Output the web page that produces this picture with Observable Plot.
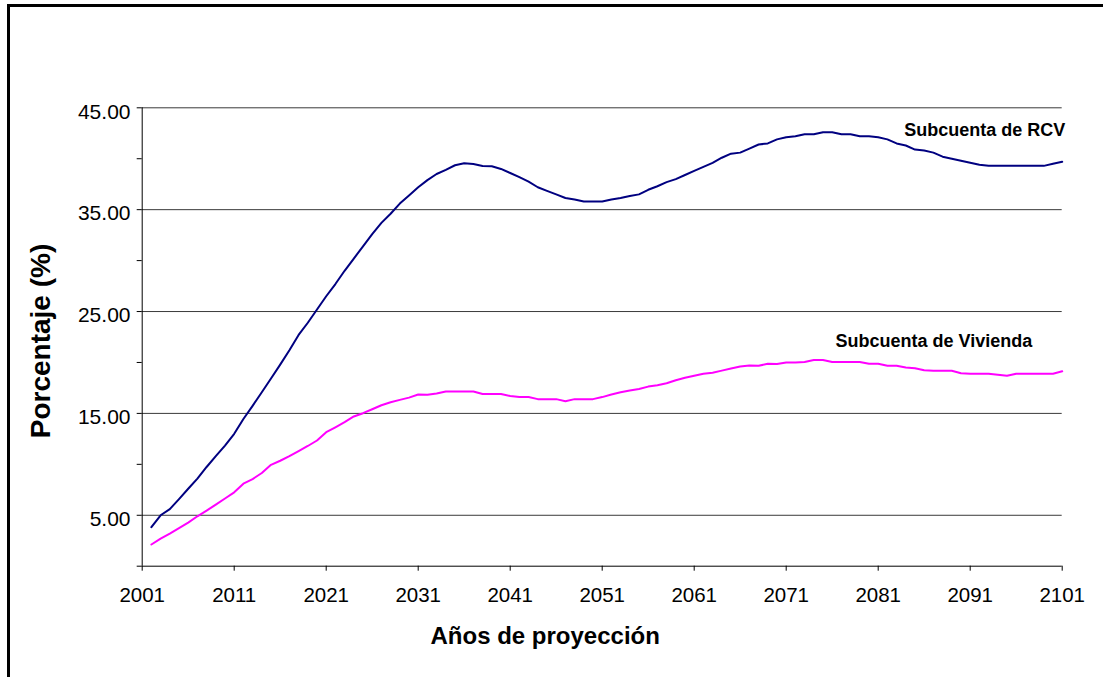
<!DOCTYPE html>
<html>
<head>
<meta charset="utf-8">
<script src="https://cdn.jsdelivr.net/npm/d3@7"></script>
<script src="https://cdn.jsdelivr.net/npm/@observablehq/plot@0.6"></script>
<style>
  html, body { margin: 0; padding: 0; background: #fff; overflow: hidden; }
  #wrap { position: relative; width: 1103px; height: 677px; overflow: hidden; }
  #frame { position: absolute; left: 7px; top: 4px; width: 1200px; height: 800px; border: 3px solid #000; box-sizing: border-box; }
  #chart { position: absolute; left: 0; top: 0; }
</style>
</head>
<body>
<div id="wrap"><div id="frame"></div><div id="chart"></div></div>
<script>
const seriesNames = ["Subcuenta de RCV", "Subcuenta de Vivienda"];
const startYear = 2002;
const rcv = [
  3.83, 5.0, 5.6, 6.58, 7.6, 8.6, 9.74, 10.8, 11.84, 13.0,
  14.45, 15.74, 17.08, 18.42, 19.79, 21.2, 22.7, 23.9, 25.2, 26.5,
  27.7, 29.0, 30.2, 31.4, 32.6, 33.7, 34.6, 35.6, 36.4, 37.2,
  37.9, 38.5, 38.9, 39.36, 39.55, 39.49, 39.29, 39.26, 39.0, 38.6,
  38.2, 37.75, 37.2, 36.84, 36.5, 36.15, 36.0, 35.8, 35.8, 35.8,
  36.0, 36.15, 36.35, 36.5, 36.95, 37.3, 37.7, 38.0, 38.4, 38.8,
  39.2, 39.6, 40.1, 40.5, 40.6, 41.0, 41.4, 41.5, 41.9, 42.1,
  42.2, 42.4, 42.4, 42.6, 42.6, 42.4, 42.4, 42.2, 42.2, 42.1,
  41.9, 41.5, 41.3, 40.9, 40.8, 40.6, 40.2, 40.0, 39.8, 39.6,
  39.4, 39.3, 39.3, 39.3, 39.3, 39.3, 39.3, 39.3, 39.5, 39.7
];
const vivienda = [
  2.13, 2.7, 3.2, 3.73, 4.28, 4.9, 5.45, 6.05, 6.65, 7.25,
  8.1, 8.55, 9.15, 9.95, 10.35, 10.8, 11.3, 11.8, 12.34, 13.15,
  13.64, 14.14, 14.7, 15.02, 15.41, 15.8, 16.1, 16.33, 16.55, 16.85,
  16.82, 16.95, 17.15, 17.15, 17.15, 17.15, 16.9, 16.9, 16.9, 16.7,
  16.6, 16.6, 16.4, 16.4, 16.4, 16.2, 16.4, 16.4, 16.4, 16.6,
  16.85, 17.08, 17.25, 17.4, 17.63, 17.77, 17.96, 18.26, 18.5, 18.7,
  18.9, 19.0, 19.2, 19.4, 19.6, 19.7, 19.67, 19.87, 19.84, 20.0,
  20.0, 20.05, 20.25, 20.25, 20.05, 20.05, 20.05, 20.05, 19.87, 19.87,
  19.67, 19.67, 19.5, 19.44, 19.24, 19.18, 19.18, 19.18, 18.95, 18.9,
  18.9, 18.9, 18.8, 18.7, 18.9, 18.9, 18.9, 18.9, 18.9, 19.13
];
const xTicks = [2001, 2011, 2021, 2031, 2041, 2051, 2061, 2071, 2081, 2091, 2101];
const yTicks = [0, 5, 10, 15, 20, 25, 30, 35, 40, 45];
const yLabelTicks = [5, 15, 25, 35, 45];
const gridValues = [5, 15, 25, 35, 45];
const xTitle = "Años de proyección";
const yTitle = "Porcentaje (%)";
const colors = ["#000080", "#FF00FF"];

const data = [];
rcv.forEach((v, i) => data.push({year: startYear + i, value: v, series: seriesNames[0]}));
vivienda.forEach((v, i) => data.push({year: startYear + i, value: v, series: seriesNames[1]}));

const font = "'Liberation Sans', Arial, Helvetica, sans-serif";

const chart = Plot.plot({
  width: 1103,
  height: 677,
  marginLeft: 141.7,
  marginRight: 41.3,
  marginTop: 107.3,
  marginBottom: 111.3,
  x: {domain: [2001, 2101]},
  y: {domain: [0, 45]},
  color: {domain: seriesNames, range: colors},
  style: {fontFamily: font, background: "transparent", color: "#000"},
  marks: [
    Plot.ruleY(gridValues, {stroke: "#3a3a3a", strokeWidth: 1}),
    Plot.axisY({ticks: yTicks, tickSize: 5, tickFormat: () => "", label: null}),
    Plot.axisY({ticks: yLabelTicks, tickSize: 0, tickPadding: 11.7, dy: 4, fontSize: 21,
      tickFormat: d => d.toFixed(2), label: null}),
    Plot.axisX({ticks: xTicks, tickSize: 5, tickPadding: 16, fontSize: 20.5,
      tickFormat: d => String(d), label: null}),
    Plot.ruleY([0], {stroke: "#000", strokeWidth: 1}),
    Plot.ruleX([2001], {stroke: "#000", strokeWidth: 1}),
    Plot.line(data, {x: "year", y: "value", stroke: "series", strokeWidth: 2}),
    Plot.text(data.filter(d => d.series === seriesNames[0]), Plot.selectLast({
      x: "year", y: "value", text: "series", textAnchor: "end", dx: 3, dy: -31.5,
      fontSize: 18, fontWeight: "bold", fill: "#000"})),
    Plot.text(data.filter(d => d.series === seriesNames[1]), Plot.selectLast({
      x: "year", y: "value", text: "series", textAnchor: "end", dx: -30, dy: -30.5,
      fontSize: 18, fontWeight: "bold", fill: "#000"})),
    Plot.text([xTitle], {text: d => d, frameAnchor: "bottom", textAnchor: "middle", lineAnchor: "middle",
      dx: -57, dy: 70, fontSize: 24, fontWeight: "bold", fill: "#000"}),
    Plot.text([yTitle], {text: d => d, frameAnchor: "left", textAnchor: "middle", lineAnchor: "middle",
      dx: -101, dy: 4, rotate: -90, fontSize: 28, fontWeight: "bold", fill: "#000"})
  ]
});
document.getElementById("chart").appendChild(chart);
</script>
</body>
</html>
